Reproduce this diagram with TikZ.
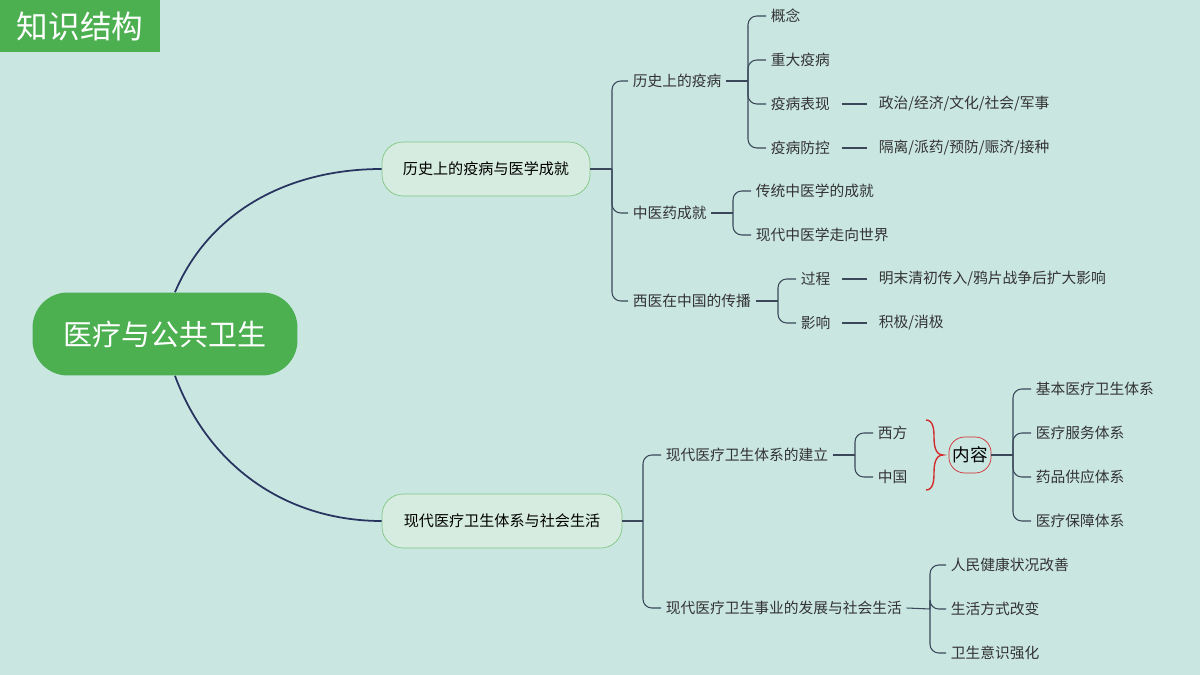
\documentclass[tikz,border=0pt]{standalone}
\usepackage{fontspec}
\usetikzlibrary{shapes.geometric}
\newfontfamily\cjk{Noto Sans CJK SC}
\definecolor{bgteal}{RGB}{201,230,225}
\definecolor{leafgreen}{RGB}{76,175,80}
\definecolor{boxgreen}{RGB}{214,236,224}
\definecolor{textgray}{RGB}{51,51,51}
\definecolor{linkgray}{RGB}{58,72,90}
\definecolor{navy}{RGB}{40,52,96}
\definecolor{bracered}{RGB}{210,45,45}
\tikzset{
  txt/.style={anchor=west, inner xsep=2.5pt, inner ysep=1pt, text=textgray, font=\cjk\fontsize{8.4}{10}\selectfont},
  link/.style={draw=linkgray, line width=0.6pt, rounded corners=5},
  dashlink/.style={draw=linkgray, line width=0.6pt, shorten <=4pt, shorten >=4pt},
  mainlink/.style={draw=navy, line width=1pt},
  subbox/.style={draw=leafgreen!70, fill=boxgreen, rounded corners=12, minimum height=1.08cm, inner xsep=8pt, text=black, font=\cjk\fontsize{8.6}{10}\selectfont}
}
\newcommand{\fan}[2]{\foreach \c in {#2} {\draw[link] (#1) |- (\c.west);}}
\begin{document}
\begin{tikzpicture}[x=0.02cm, y=-0.02cm]
\fill[bgteal] (0,0) rectangle (1200,675);
\useasboundingbox (0,0) rectangle (1200,675);

% title
\node[fill=leafgreen, minimum width=3.2cm, minimum height=1.04cm, text=white, font=\cjk\fontsize{18}{20}\selectfont] (title) at (80,26) {知识结构};

% root and main branches
\node[fill=leafgreen, rounded corners=20, minimum width=5.3cm, minimum height=1.66cm, text=white, font=\cjk\fontsize{16.5}{20}\selectfont] (root) at (165,334) {医疗与公共卫生};
\node[subbox, minimum width=4.16cm] (hist) at (486,169) {历史上的疫病与医学成就};
\node[subbox, minimum width=4.8cm] (mod) at (502,521) {现代医疗卫生体系与社会生活};
\draw[mainlink] (root.north) ++(10,0) .. controls (210,210) and (290,169) .. (hist.west);
\draw[mainlink] (root.south) ++(10,0) .. controls (210,470) and (290,521) .. (mod.west);

% history side
\node[txt] (epi) at (628,81) {历史上的疫病};
\node[txt] (tcm) at (628,213) {中医药成就};
\node[txt] (west) at (628,301) {西医在中国的传播};
\coordinate (jHist) at (612,169);
\draw[link] (hist.east) -- (jHist);
\fan{jHist}{epi,tcm,west}

\node[txt] (concept) at (766,16) {概念};
\node[txt] (major) at (766,60) {重大疫病};
\node[txt] (show) at (766,104) {疫病表现};
\node[txt] (ctrl) at (766,148) {疫病防控};
\coordinate (jEpi) at (748,81);
\draw[link] (epi.east) -- (jEpi);
\fan{jEpi}{concept,major,show,ctrl}
\node[txt] (showx) at (874,104) {政治/经济/文化/社会/军事};
\node[txt] (ctrlx) at (874,148) {隔离/派药/预防/赈济/接种};
\draw[dashlink] (show.east) -- (showx.west);
\draw[dashlink] (ctrl.east) -- (ctrlx.west);

\node[txt] (trad) at (751,191) {传统中医学的成就};
\node[txt] (world) at (751,235) {现代中医学走向世界};
\coordinate (jTcm) at (733,213);
\draw[link] (tcm.east) -- (jTcm);
\fan{jTcm}{trad,world}

\node[txt] (proc) at (796,279) {过程};
\node[txt] (infl) at (796,323) {影响};
\coordinate (jWest) at (778,301);
\draw[link] (west.east) -- (jWest);
\fan{jWest}{proc,infl}
\node[txt] (procx) at (874,279) {明末清初传入/鸦片战争后扩大影响};
\node[txt] (inflx) at (874,323) {积极/消极};
\draw[dashlink] (proc.east) -- (procx.west);
\draw[dashlink] (infl.east) -- (inflx.west);

% modern side
\node[txt] (build) at (661,455) {现代医疗卫生体系的建立};
\node[txt] (dev) at (661,608) {现代医疗卫生事业的发展与社会生活};
\coordinate (jMod) at (643,521);
\draw[link] (mod.east) -- (jMod);
\fan{jMod}{build,dev}

\node[txt] (xf) at (873,433) {西方};
\node[txt] (zg) at (873,477) {中国};
\coordinate (jBuild) at (855,455);
\draw[link] (build.east) -- (jBuild);
\fan{jBuild}{xf,zg}

\draw[bracered, line width=0.8pt] (926,420) to[out=0,in=90] (934,437) to[out=-90,in=180] (943,455) to[out=180,in=90] (934,473) to[out=-90,in=0] (926,490);
\node[draw=bracered, fill=bgteal, rounded corners=9, minimum height=0.72cm, inner xsep=2pt, font=\cjk\fontsize{10}{12}\selectfont] (nr) at (970,455) {内容};

\node[txt] (s1) at (1031,389) {基本医疗卫生体系};
\node[txt] (s2) at (1031,433) {医疗服务体系};
\node[txt] (s3) at (1031,477) {药品供应体系};
\node[txt] (s4) at (1031,521) {医疗保障体系};
\coordinate (jNr) at (1013,455);
\draw[link] (nr.east) -- (jNr);
\fan{jNr}{s1,s2,s3,s4}

\node[txt] (d1) at (946,565) {人民健康状况改善};
\node[txt] (d2) at (946,609) {生活方式改变};
\node[txt] (d3) at (946,653) {卫生意识强化};
\coordinate (jDev) at (930,609);
\draw[link] (dev.east) -- (jDev);
\fan{jDev}{d1,d2,d3}
\end{tikzpicture}
\end{document}
